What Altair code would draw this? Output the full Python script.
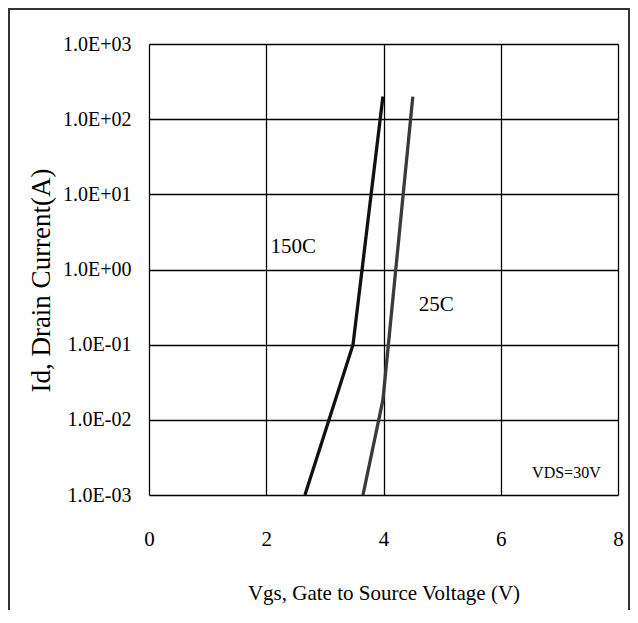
import altair as alt
import pandas as pd

# Curves (Vgs in V, Id in A)
vgs_150 = [2.66, 3.48, 3.99]
id_150 = [0.001, 0.1, 200]
vgs_25 = [3.65, 3.99, 4.50]
id_25 = [0.001, 0.0184, 200]

series_names = ["150C", "25C"]
series_colors = ["#111111", "#3a3a3a"]

x_ticks = [0, 2, 4, 6, 8]
y_ticks = [0.001, 0.01, 0.1, 1, 10, 100, 1000]
y_tick_labels = ["1.0E-03", "1.0E-02", "1.0E-01", "1.0E+00", "1.0E+01", "1.0E+02", "1.0E+03"]

annot_text = ["150C", "25C"]
annot_x = [2.46, 4.9]
annot_y = [2.0, 0.34]
cond_text = ["VDS=30V"]
cond_x = [7.12]
cond_y = [0.00196]

FONT = "Liberation Serif"
W, H = 469, 451

df = pd.DataFrame(
    {"series": ["150C"] * len(vgs_150) + ["25C"] * len(vgs_25),
     "vgs": vgs_150 + vgs_25,
     "id": id_150 + id_25,
     "order": list(range(len(vgs_150))) + list(range(len(vgs_25)))}
)
ann = pd.DataFrame({"t": annot_text, "x": annot_x, "y": annot_y})
cond = pd.DataFrame({"t": cond_text, "x": cond_x, "y": cond_y})

# label expression built from tick lists
expr = "''"
for v, lab in zip(y_ticks, y_tick_labels):
    expr = f"abs(datum.value - {v}) < {v}*0.01 ? '{lab}' : ({expr})"

xscale = alt.Scale(domain=[0, 8], nice=False, zero=False)
yscale = alt.Scale(type="log", domain=[0.001, 1000], nice=False)

xaxis = alt.Axis(
    values=x_ticks, format="d", grid=True, ticks=False, domain=False, labelFlush=False,
    gridColor="#000000", gridWidth=1.3, gridOpacity=1,
    labelFont=FONT, labelFontSize=21, labelColor="#000", labelPadding=33,
    title="Vgs, Gate to Source Voltage (V)", titleFont=FONT, titleFontSize=21,
    titleFontWeight="normal", titleColor="#000", titleY=104, titleBaseline="alphabetic",
)
yaxis = alt.Axis(
    values=y_ticks, grid=True, ticks=False, domain=False, labelExpr=expr, labelFlush=False,
    gridColor="#000000", gridWidth=1.3, gridOpacity=1,
    labelFont=FONT, labelFontSize=20, labelColor="#000", labelPadding=18,
    title="Id, Drain Current(A)", titleFont=FONT, titleFontSize=27,
    titleFontWeight="normal", titleColor="#000", titleAngle=-90,
    titleX=-100, titleY=236, titleAlign="center", titleBaseline="alphabetic",
)

lines = alt.Chart(df).mark_line(strokeWidth=3.3, clip=True).encode(
    x=alt.X("vgs:Q", scale=xscale, axis=xaxis),
    y=alt.Y("id:Q", scale=yscale, axis=yaxis),
    color=alt.Color("series:N", scale=alt.Scale(domain=series_names, range=series_colors), legend=None),
    order="order:Q",
)

labels = alt.Chart(ann).mark_text(font=FONT, fontSize=21, color="#000").encode(
    x=alt.X("x:Q", scale=xscale), y=alt.Y("y:Q", scale=yscale), text="t:N"
)
cond_lbl = alt.Chart(cond).mark_text(font=FONT, fontSize=16, color="#000").encode(
    x=alt.X("x:Q", scale=xscale), y=alt.Y("y:Q", scale=yscale), text="t:N"
)

border = alt.Chart(pd.DataFrame({"a": [0]})).mark_rect(
    fill="white", fillOpacity=0, stroke="#333333", strokeWidth=2
).encode(
    x=alt.value(-140), x2=alt.value(480), y=alt.value(-35), y2=alt.value(640)
)

chart = alt.layer(border, lines, labels, cond_lbl).properties(
    width=W, height=H,
    padding={"left": 141, "top": 36, "right": 12, "bottom": 115},
    autosize=alt.AutoSizeParams(type="none"),
).configure_view(stroke="#000000", strokeWidth=3).configure(background="white")

chart.save("out.html", embed_options={"renderer": "svg", "actions": False})
